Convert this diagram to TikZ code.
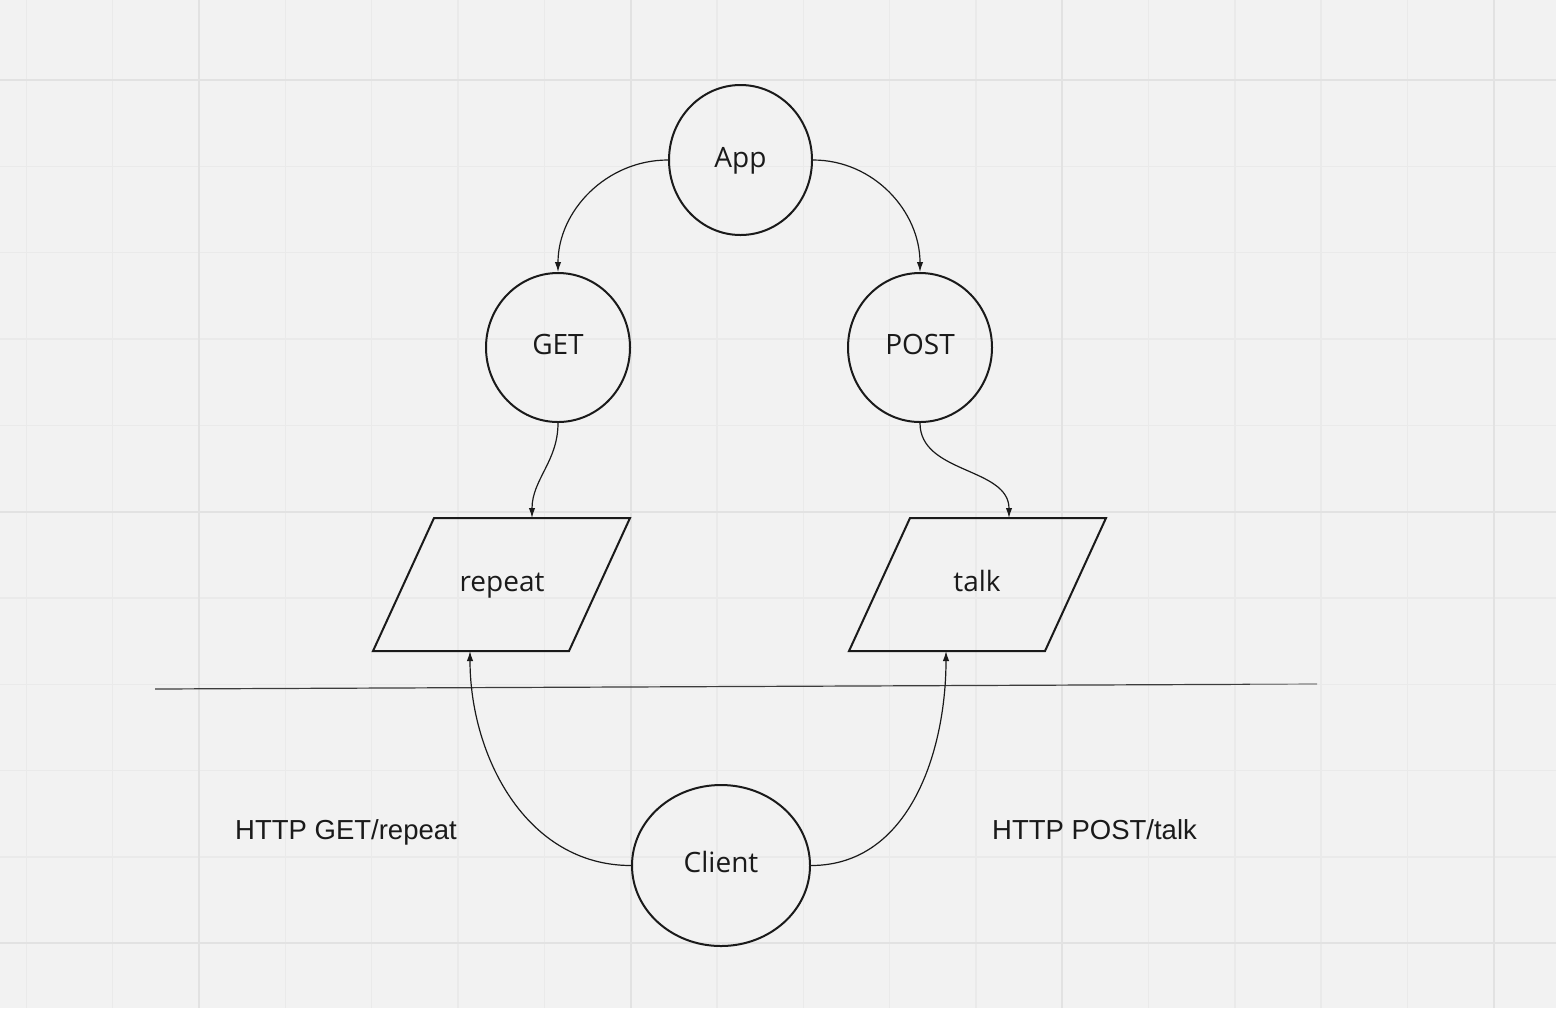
\documentclass[tikz,border=0pt]{standalone}
\usepackage{fontspec}
\setmainfont{Open Sans}
\newfontfamily\labelfont{Liberation Sans}
\usetikzlibrary{arrows.meta,shapes.geometric}
\definecolor{bgc}{HTML}{F2F2F2}
\definecolor{minorc}{HTML}{EAEAEA}
\definecolor{majorc}{HTML}{E2E2E2}
\definecolor{inkc}{HTML}{1A1A1A}
\begin{document}
\begin{tikzpicture}[x=0.5pt,y=-0.5pt,
  minorline/.style={draw=minorc,line width=0.75pt},
  majorline/.style={draw=majorc,line width=1pt},
  circnode/.style={ellipse,draw=inkc,line width=1pt,inner sep=0pt,
    text height=9.5pt,text depth=2.5pt,
    font=\fontsize{14}{16}\selectfont,text=inkc},
  shapeline/.style={draw=inkc,line width=1pt,line join=miter},
  shapetext/.style={anchor=base,font=\fontsize{14}{16}\selectfont,text=inkc},
  conn/.style={draw=inkc,line width=0.6pt,-{Latex[length=5pt,width=3.2pt]}},
  lbl/.style={anchor=base,font=\labelfont\fontsize{13.75}{16}\selectfont,text=inkc}]
\useasboundingbox (0,0) rectangle (1556,1008);
\fill[bgc] (0,0) rectangle (1556,1008);
% grid
\foreach \i in {0,...,17} {\draw[minorline] ({26.36+86.32*\i},0) -- ({26.36+86.32*\i},1008);}
\foreach \i in {0,...,10} {\draw[minorline] (0,{80+86.32*\i}) -- (1556,{80+86.32*\i});}
\foreach \i in {0,...,3} {\draw[majorline] ({199+431.6*\i},0) -- ({199+431.6*\i},1008);}
\foreach \i in {0,...,2} {\draw[majorline] (0,{80+431.6*\i}) -- (1556,{80+431.6*\i});}
% circles
\node[circnode,minimum width=71.5pt,minimum height=75pt] (app) at (740.5,160) {App};
\node[circnode,minimum width=72pt,minimum height=74.5pt] (get) at (558,347.5) {GET};
\node[circnode,minimum width=72pt,minimum height=74.5pt] (post) at (920,347.5) {POST};
\node[circnode,minimum width=89pt,minimum height=80.5pt] (client) at (721,865.5) {Client};
% parallelograms
\draw[shapeline] (434,518) -- (630,518) -- (569,651) -- (373,651) -- cycle;
\draw[shapeline] (910,518) -- (1106,518) -- (1045,651) -- (849,651) -- cycle;
\node[shapetext] (repeat) at (502,591.5) {repeat};
\node[shapetext] (talk) at (977,591.5) {talk};
\coordinate (repeattop) at (532,518);
\coordinate (repeatbot) at (470,651);
\coordinate (talktop) at (1009,518);
\coordinate (talkbot) at (946,651);
% separator
\coordinate (sepl) at (155,689);
\coordinate (sepm) at (1250,684.3);
\coordinate (sepr) at (1317,684);
\draw[draw=inkc!85,line width=0.6pt] (sepl) -- (sepm);
\draw[draw=inkc!55,line width=0.6pt] (sepm) -- (sepr);
% connectors
\draw[conn] (app.west) to[out=180,in=90] (get.north);
\draw[conn] (app.east) to[out=0,in=90] (post.north);
\draw[conn] (get.south) to[out=-90,in=90] (repeattop);
\draw[conn] (post.south) to[out=-90,in=90] (talktop);
\draw[conn] (client.west) to[out=180,in=-90] (repeatbot);
\draw[conn] (client.east) to[out=0,in=-90] (talkbot);
% labels
\node[lbl] (lget) at (346,839) {HTTP GET/repeat};
\node[lbl] (lpost) at (1094.5,839) {HTTP POST/talk};
\end{tikzpicture}
\end{document}
